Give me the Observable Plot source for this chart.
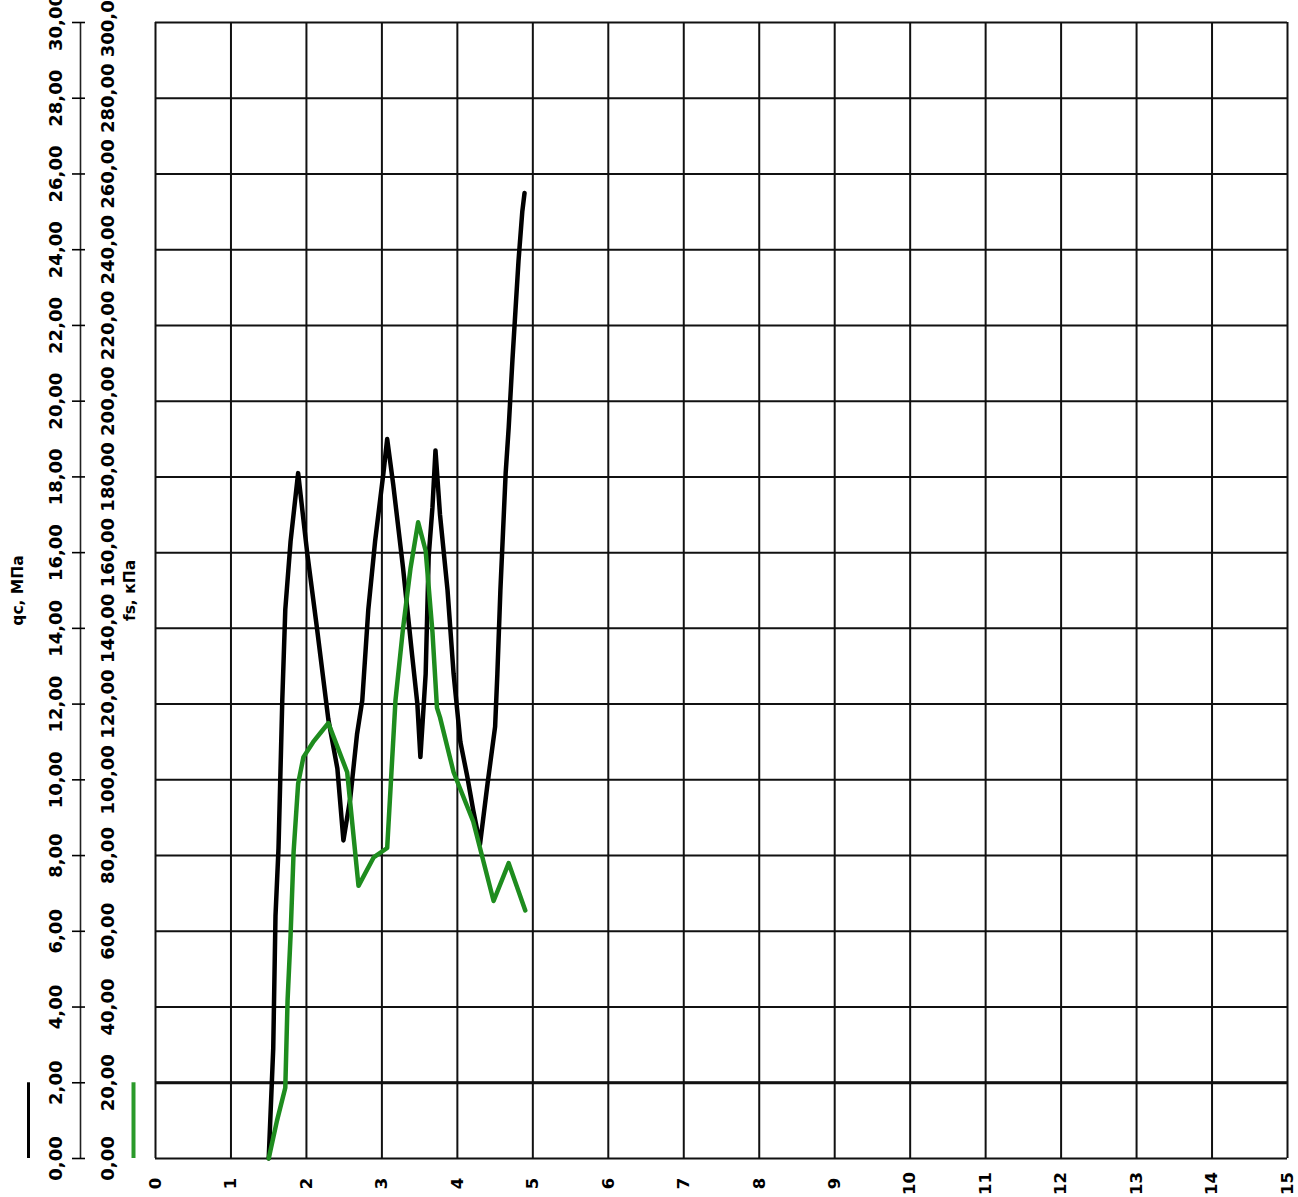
<!DOCTYPE html>
<html><head><meta charset="utf-8">
<script src="https://cdn.jsdelivr.net/npm/d3@7"></script>
<script src="https://cdn.jsdelivr.net/npm/@observablehq/plot@0.6"></script>
<style>html,body{margin:0;padding:0;background:#fff;overflow:hidden}</style>
</head><body><div id="chart"></div>
<script>
// Depth ticks (horizontal axis, m)
const depthTicks = [0,1,2,3,4,5,6,7,8,9,10,11,12,13,14,15];
// qc ticks (MPa) and fs ticks (kPa)
const qcTicks = [0,2,4,6,8,10,12,14,16,18,20,22,24,26,28,30];
const fsTicks = [0,20,40,60,80,100,120,140,160,180,200,220,240,260,280,300];
const qcTitle = "qc, МПа";
const fsTitle = "fs, кПа";

// Cone resistance qc (black)
const qcDepth = [1.50,1.56,1.59,1.63,1.68,1.72,1.79,1.89,2.01,2.14,2.29,2.41,2.49,2.58,2.67,2.74,2.82,2.91,3.02,3.07,3.15,3.28,3.40,3.47,3.51,3.58,3.62,3.67,3.71,3.77,3.87,3.95,4.04,4.13,4.21,4.30,4.40,4.50,4.53,4.57,4.64,4.68,4.73,4.77,4.81,4.86,4.89];
const qcValues = [0,2.9,6.4,8.2,12.1,14.5,16.3,18.1,16.0,14.0,11.6,10.3,8.4,9.5,11.2,12.1,14.5,16.3,18.1,19.0,17.8,15.6,13.3,12.0,10.6,12.8,15.9,17.2,18.7,17.0,15.0,12.8,11.0,10.1,9.2,8.3,9.9,11.4,12.8,15.0,18.1,19.3,21.1,22.4,23.7,25.0,25.5];

// Sleeve friction fs (green)
const fsDepth = [1.50,1.61,1.72,1.75,1.79,1.83,1.89,1.96,2.09,2.19,2.29,2.54,2.69,2.89,3.07,3.18,3.28,3.38,3.48,3.58,3.67,3.73,3.77,3.95,4.21,4.48,4.68,4.90];
const fsValues = [0,10,18.7,41.7,59,81,99,106,110,112.5,115,102,72,79.5,82,121,140,156,168,160.5,139,119,116.5,102,89,68,78,65.5];

const qcData = qcDepth.map((d, i) => ({depth: d, value: qcValues[i]}));
const fsData = fsDepth.map((d, i) => ({depth: d, value: fsValues[i]}));
const fmt = v => v.toFixed(2).replace(".", ",");
const fsToQc = v => v / 10; // fs axis shares the frame: 300 kPa ↔ 30 MPa

const font = "'DejaVu Sans', Verdana, sans-serif";
const labelStyle = {rotate: -90, textAnchor: "middle", lineAnchor: "middle", fontWeight: "bold", fontFamily: font};

const chart = Plot.plot({
  width: 1298,
  height: 1197,
  marginLeft: 155,
  marginRight: 11,
  marginTop: 22,
  marginBottom: 39,
  x: {domain: [0, 15], axis: null},
  y: {domain: [0, 30], axis: null},
  style: {fontFamily: font, background: "white"},
  marks: [
    Plot.ruleX(depthTicks, {stroke: "#111", strokeWidth: 2}),
    Plot.ruleY(qcTicks, {stroke: "#111", strokeWidth: 2}),
    Plot.ruleY([2], {stroke: "#111", strokeWidth: 3.2}),
    // left scale line and ticks
    Plot.ruleX([0], {dx: -75, stroke: "#222", strokeWidth: 1.6}),
    Plot.axisY({anchor: "left", ticks: qcTicks, tickSize: 13, tickFormat: () => "", label: null, dx: -70, strokeWidth: 1.6}),
    // tick labels
    Plot.text(qcTicks, {y: d => d, frameAnchor: "left", dx: -99, text: fmt, fontSize: 18, ...labelStyle}),
    Plot.text(fsTicks, {y: fsToQc, frameAnchor: "left", dx: -47, text: fmt, fontSize: 18, ...labelStyle}),
    Plot.text(depthTicks, {x: d => d, frameAnchor: "bottom", dy: 25, text: d => String(d), fontSize: 16.5, ...labelStyle}),
    // axis titles
    Plot.text([qcTitle], {frameAnchor: "left", dx: -137, text: d => d, fontSize: 15.5, ...labelStyle}),
    Plot.text([fsTitle], {frameAnchor: "left", dx: -25, text: d => d, fontSize: 15.5, ...labelStyle}),
    // legend swatches
    Plot.ruleX([0], {y1: 0, y2: 2, dx: -127, stroke: "#000", strokeWidth: 3}),
    Plot.ruleX([0], {y1: 0, y2: 2, dx: -22, stroke: "#2a9a2a", strokeWidth: 4}),
    // data lines
    Plot.line(qcData, {x: "depth", y: "value", stroke: "#000", strokeWidth: 4.5}),
    Plot.line(fsData, {x: "depth", y: d => fsToQc(d.value), stroke: "#1e8c1e", strokeWidth: 4.5})
  ]
});
document.getElementById("chart").append(chart);
</script>
</body></html>
